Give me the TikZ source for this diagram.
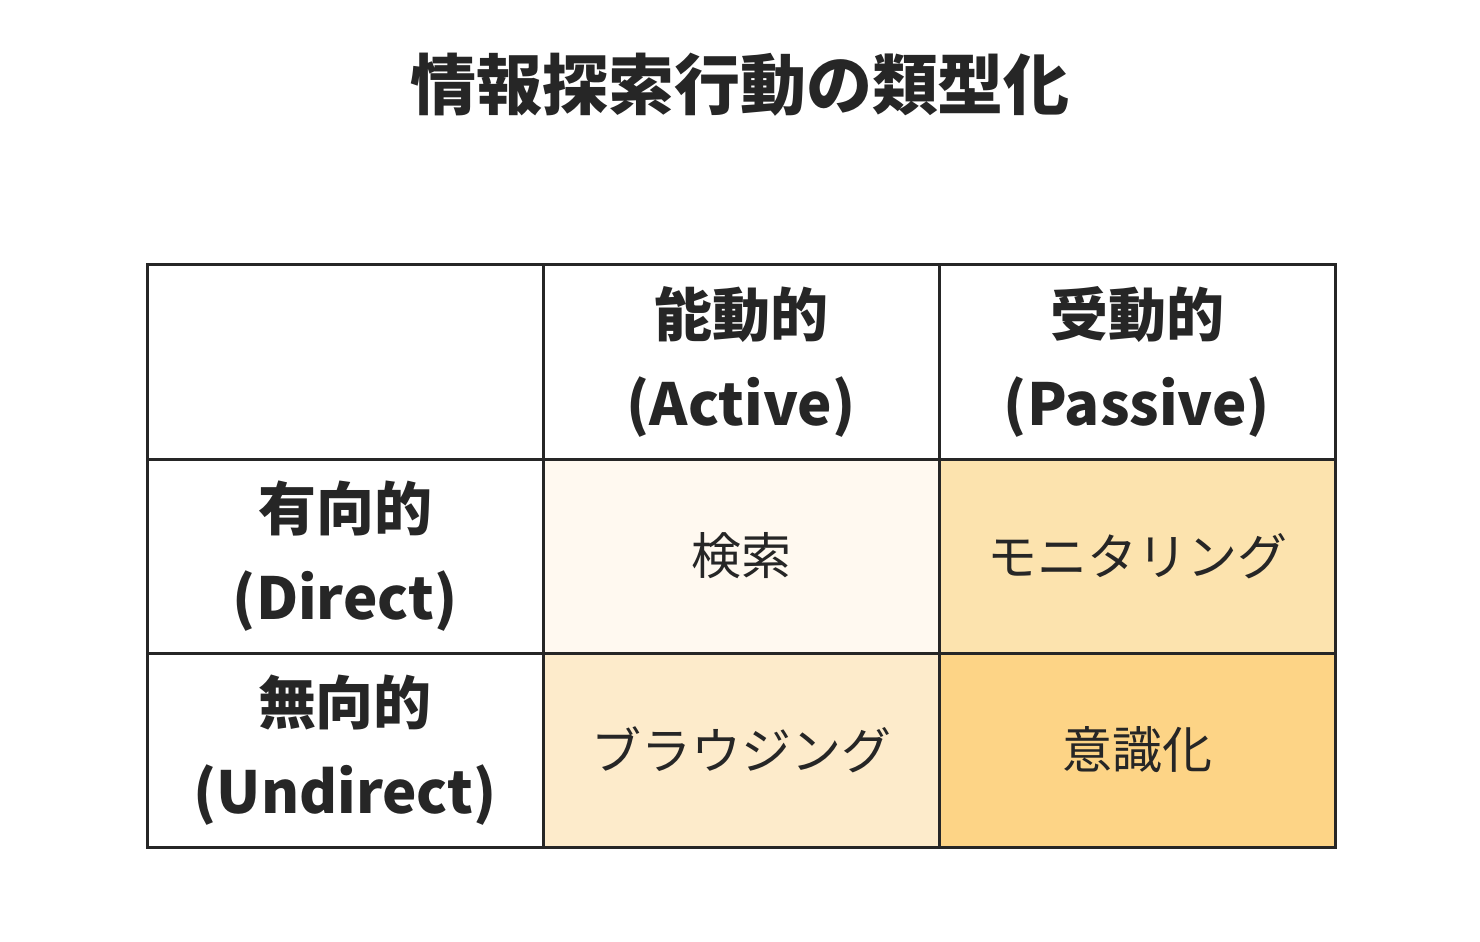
\documentclass[tikz,border=0pt]{standalone}
\usepackage{fontspec}
\setmainfont{Noto Sans CJK JP}
\begin{document}
\begin{tikzpicture}[x=0.5pt,y=-0.5pt,
  hdr/.style={font=\fontsize{29}{44.5}\selectfont\bfseries,align=center,text=black!85},
  cell/.style={font=\fontsize{25}{30}\selectfont,text=black!85},
  grid/.style={draw=black!85,line width=1.5pt}]
\useasboundingbox (0,0) rectangle (1480,942);
\node[font=\fontsize{33}{40}\selectfont\bfseries,text=black!85] (title) at (740,85) {情報探索行動の類型化};
\fill[fill={rgb,255:red,255;green,249;blue,240}] (543,459) rectangle (939,653);
\fill[fill={rgb,255:red,252;green,227;blue,174}] (939,459) rectangle (1335,653);
\fill[fill={rgb,255:red,253;green,235;blue,203}] (543,653) rectangle (939,847);
\fill[fill={rgb,255:red,253;green,212;blue,134}] (939,653) rectangle (1335,847);
\draw[grid] (147,264) rectangle (1335,847);
\draw[grid] (543,264) -- (543,847);
\draw[grid] (939,264) -- (939,847);
\draw[grid] (147,459) -- (1335,459);
\draw[grid] (147,653) -- (1335,653);
\node[hdr] (h1) at (741,362) {能動的\\(Active)};
\node[hdr] (h2) at (1137,362) {受動的\\(Passive)};
\node[hdr] (r1) at (345,556) {有向的\\(Direct)};
\node[hdr] (r2) at (345,750) {無向的\\(Undirect)};
\node[cell] (c11) at (741,556) {検索};
\node[cell] (c12) at (1137,556) {モニタリング};
\node[cell] (c21) at (741,750) {ブラウジング};
\node[cell] (c22) at (1137,750) {意識化};
\end{tikzpicture}
\end{document}
